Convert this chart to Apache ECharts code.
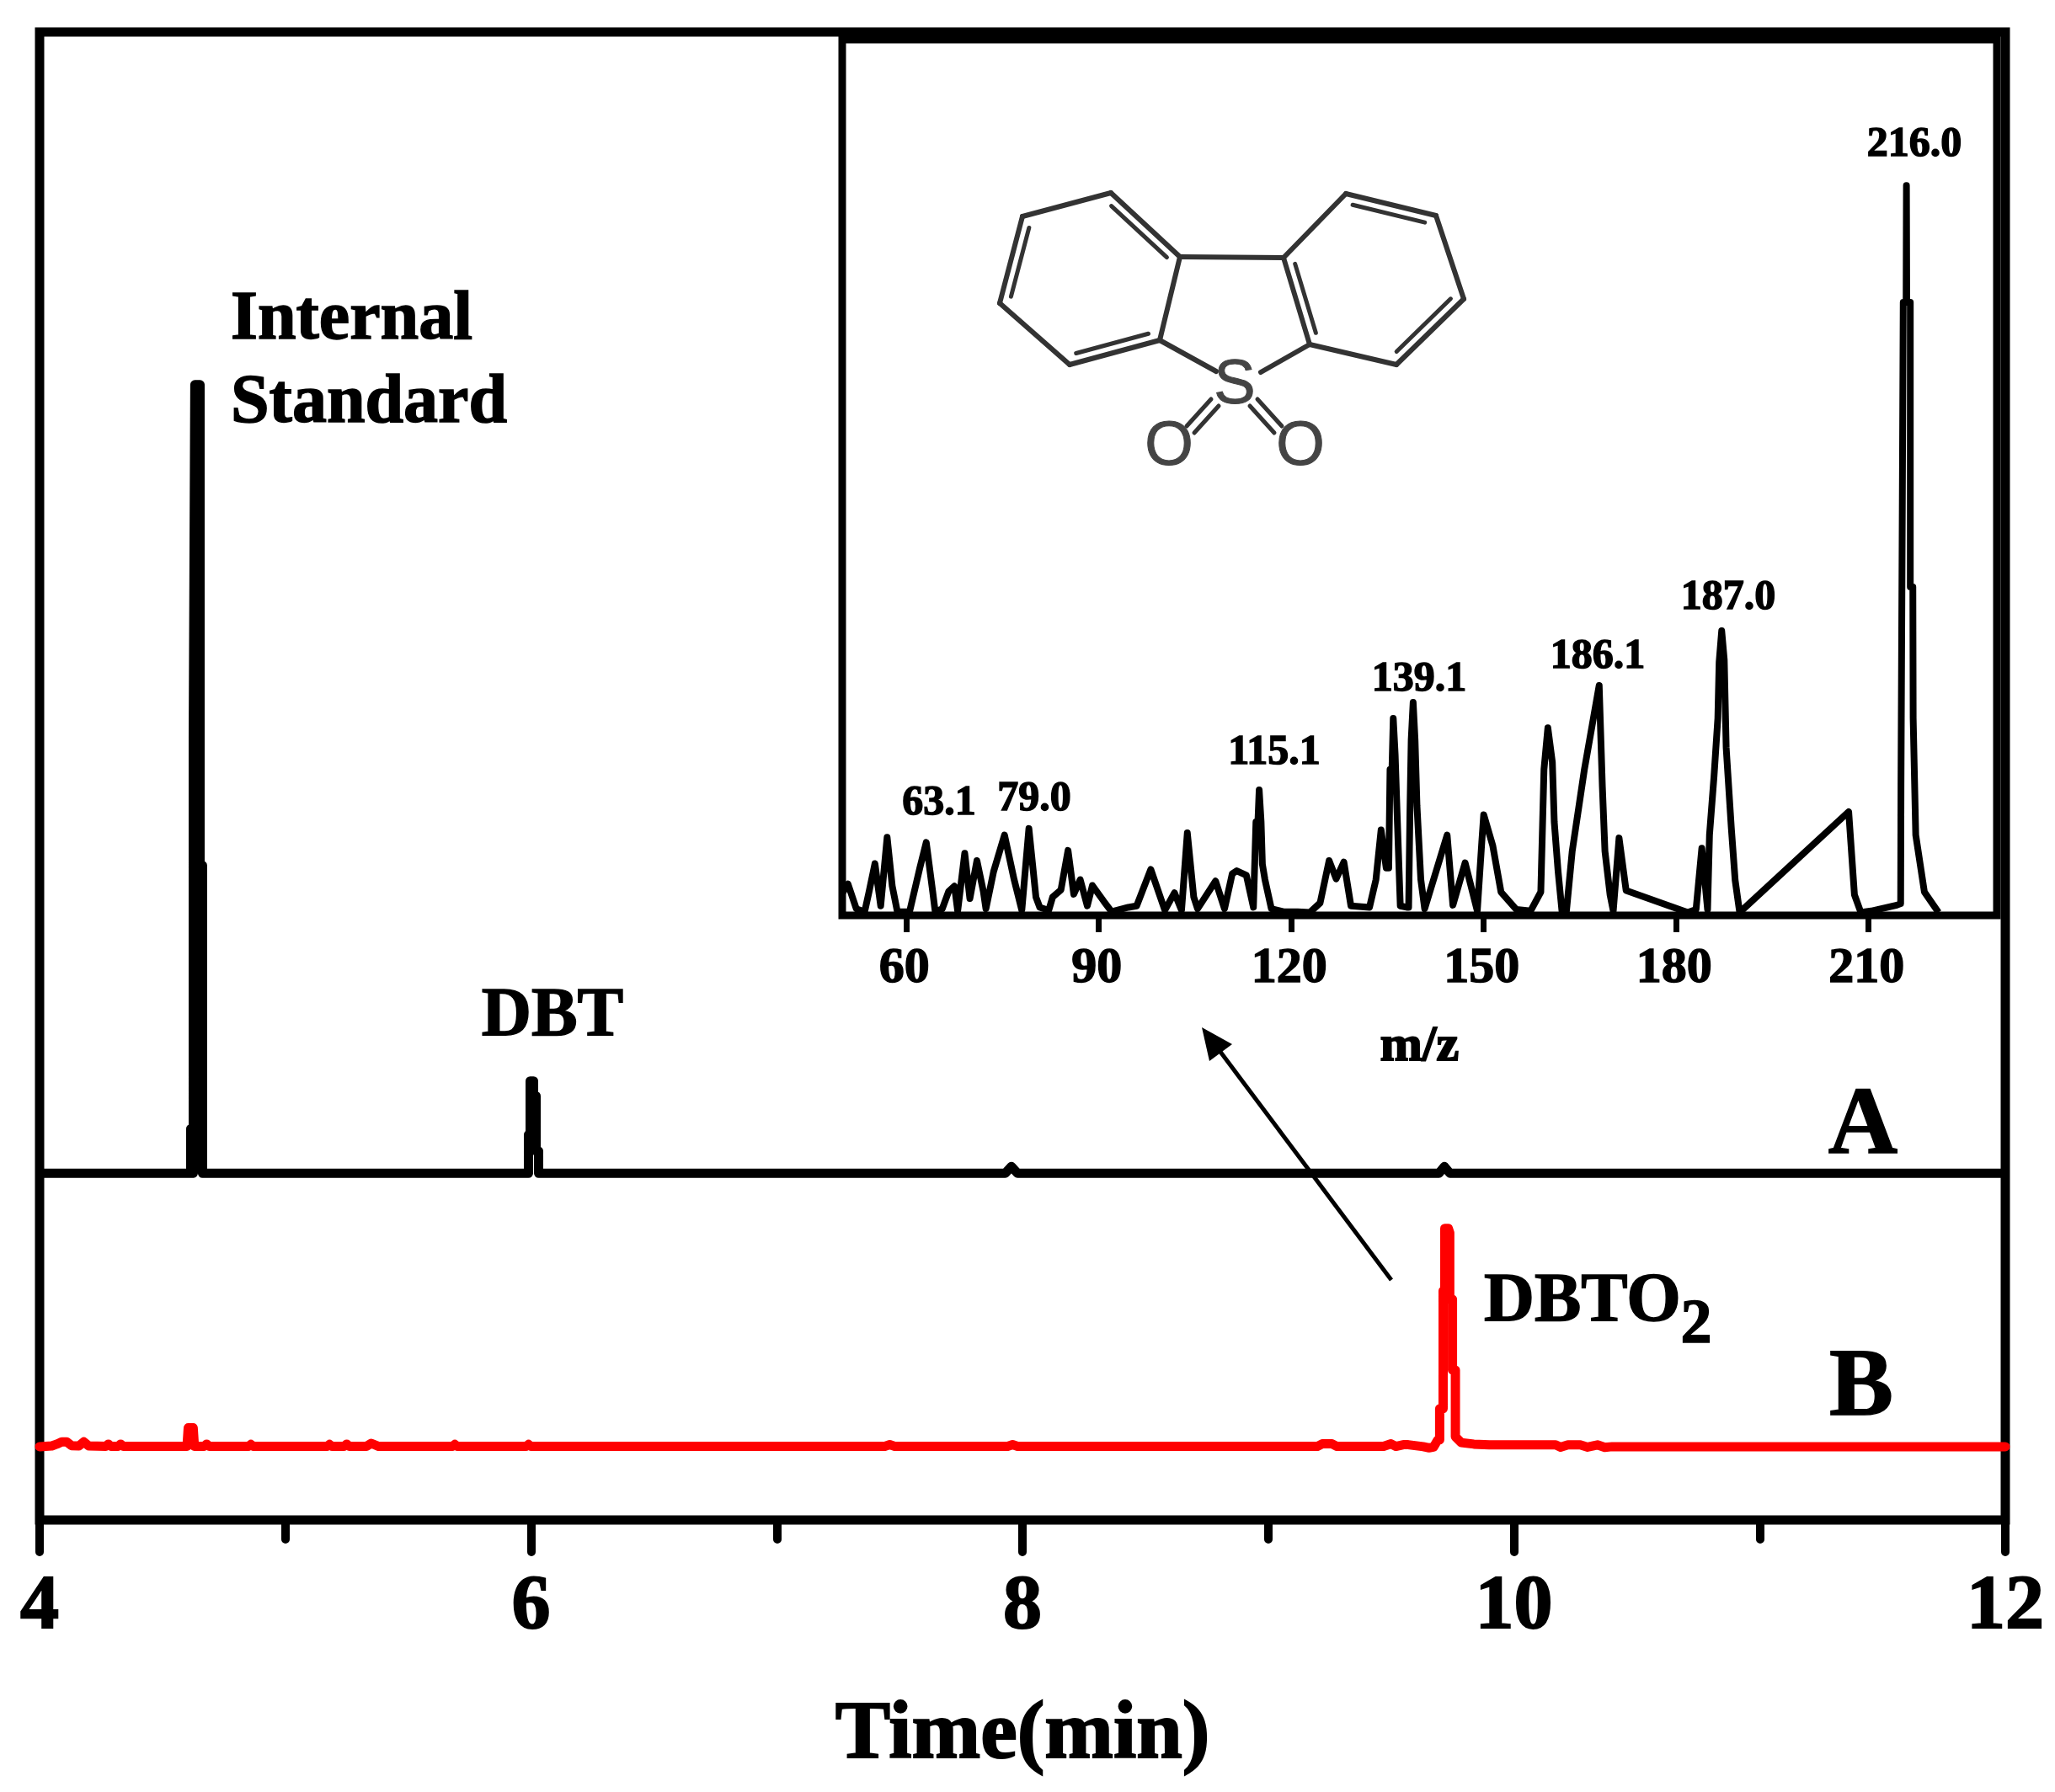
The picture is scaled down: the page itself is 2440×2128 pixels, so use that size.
<!DOCTYPE html>
<html>
  <head>
    <meta charset="utf-8" />
    <title>Chromatogram with mass spectrum inset</title>
    <script src="https://cdnjs.cloudflare.com/ajax/libs/echarts/6.0.0/echarts.min.js"></script>
    <style>
      html, body { margin: 0; padding: 0; background: #fff; }
      #main { width: 2440px; height: 2128px; }
    </style>
  </head>
  <body>
    <div id="main"></div>
    <script type="text/javascript">
      // trace A (black), time in min / stacked signal
      var timeA = [4, 4.6152, 4.6152, 4.6255, 4.6255, 4.632, 4.632, 4.653, 4.653, 4.663, 4.663,
        5.9897, 5.9897, 5.9966, 5.9966, 6.0103, 6.0103, 6.0206, 6.0206, 6.0309, 6.0309,
        7.93, 7.955, 7.98, 9.695, 9.717, 9.74, 12];
      var signalA = [23.3, 23.3, 26.3, 23.3, 52.5, 52.5, 76.3, 76.3, 44, 44, 23.3,
        23.3, 25.9, 25.9, 29.5, 29.5, 28.5, 28.5, 24.8, 24.8, 23.3,
        23.3, 23.75, 23.3, 23.3, 23.75, 23.3, 23.3];

      // trace B (red)
      var timeB = [4, 4.05, 4.07, 4.09, 4.11, 4.13, 4.16, 4.18, 4.2, 4.27, 4.28, 4.29, 4.32, 4.33, 4.34,
        4.6, 4.605, 4.625, 4.63, 4.67, 4.68, 4.69, 4.85, 4.86, 4.87, 5.17, 5.18, 5.19, 5.24, 5.25, 5.26,
        5.33, 5.35, 5.38, 5.68, 5.69, 5.7, 5.98, 5.99, 6.0, 7.44, 7.46, 7.48, 7.94, 7.96, 7.98,
        9.2, 9.22, 9.26, 9.28, 9.47, 9.5, 9.52, 9.55, 9.57, 9.631, 9.655, 9.673, 9.69, 9.698, 9.698, 9.712, 9.712,
        9.719, 9.719, 9.733, 9.739, 9.739, 9.75, 9.75, 9.762, 9.762, 9.786, 9.837, 9.9, 10.17, 10.19, 10.22, 10.27, 10.3, 10.34, 10.37, 10.4, 12];
      var signalB = [4.93, 4.98, 5.1, 5.25, 5.25, 5.0, 4.98, 5.25, 4.98, 4.95, 5.1, 4.95, 4.95, 5.1, 4.95,
        4.95, 6.2, 6.2, 4.95, 4.95, 5.1, 4.95, 4.95, 5.08, 4.95, 4.95, 5.08, 4.95, 4.95, 5.1, 4.95,
        4.95, 5.15, 4.95, 4.95, 5.08, 4.95, 4.95, 5.08, 4.95, 4.95, 5.06, 4.95, 4.95, 5.06, 4.95,
        4.95, 5.12, 5.12, 4.95, 4.95, 5.12, 4.95, 5.06, 5.06, 4.93, 4.85, 4.9, 5.38, 5.38, 7.48, 7.48, 15.4,
        15.4, 19.6, 19.6, 19.3, 14.84, 14.84, 10.08, 10.08, 5.6, 5.2, 5.1, 5.05, 5.05, 4.9, 5.05, 5.05, 4.9, 5.05, 4.88, 4.93, 4.93];

      // inset mass spectrum, m/z / relative abundance
      var mzValues = [50, 50.9, 52.2, 53.5, 54.2, 55.1, 56, 57, 57.8, 58.6, 60.5, 62.1, 63.1, 64.1, 64.5, 65.6, 66.6,
        67.5, 68, 69.1, 69.9, 71, 72, 72.4, 73.6, 75.3, 76.8, 78, 79.1, 80.2, 80.8, 82.2, 82.8, 84.1,
        85.2, 86.1, 87.1, 88.2, 89, 90.8, 92, 94.6, 95.9, 98.1, 100.3, 101.8, 102.9, 103.8, 104.8, 105.4,
        108.2, 109.6, 110.8, 111.5, 113, 114.1, 114.5, 114.8, 115, 115.3, 115.5, 115.9, 116.9, 118.8, 121, 122.9, 124.5, 125.9, 127,
        128.2, 129.3, 132.2, 133.2, 134, 134.8, 135.2, 135.4, 135.7, 135.9, 136.2, 136.5, 137, 138, 138.3, 138.5, 138.7, 139, 139.3, 139.6, 140.2, 140.8, 144.3, 145.2, 147.1,
        149, 149.7, 150, 151.4, 152.7, 155.1, 157.3, 158.9, 159.4, 160, 160.7, 161, 161.6, 162.2, 162.9, 163.8, 165.7, 166.9, 168, 168.5, 168.9, 169.7,
        170.2, 171.1, 172.2, 181.8, 183.1, 184, 184.9, 185.2, 185.9, 186.5, 186.7, 187.1, 187.5, 187.8, 188.6, 189.2, 189.9, 206.9, 207.8, 208.8,
        210.4, 214.4, 215, 215.05, 215.2, 215.25, 215.4, 215.4, 215.85, 215.9, 215.95, 216.5, 216.5, 216.9, 216.95, 217.2, 217.35, 218.7, 220.9];
      var abundance = [3, 4.3, 0.9, 0.5, 3.3, 7.1, 1.3, 10.7, 4, 0.5, 0.5, 6.5, 10, 3.3, 0.5, 0.9, 3.3,
        4, 0.6, 8.5, 2.3, 7.5, 3.3, 0.9, 6, 11, 4.9, 0.7, 11.9, 2.5, 1.1, 0.7, 2.5, 3.5,
        8.9, 2.9, 4.9, 1.3, 4.1, 1.9, 0.5, 1.1, 1.3, 6.3, 0.7, 3.1, 0.7, 11.3, 2.5, 0.9,
        4.7, 0.9, 5.7, 6.1, 5.5, 1.1, 12.8, 12.8, 17.2, 12.8, 7, 4.9, 0.9, 0.5, 0.5, 0.4, 1.7, 7.5, 5,
        7.3, 1.3, 1.1, 4.9, 11.7, 6.5, 6.5, 20, 20, 27, 22, 14, 1.3, 1.1, 1.1, 14, 24, 29.2, 24, 15, 4.9, 0.9, 11, 1.4, 7.2,
        0.6, 10, 13.8, 9.6, 3.2, 0.8, 0.6, 3.2, 20, 25.7, 21, 12.8, 6, 0.6, 0.6, 8.8, 20, 26, 31.5, 17.6, 8.8, 2.8,
        0.6, 10.6, 3.4, 0.4, 0.8, 9.2, 0.8, 11, 19, 27, 34.7, 39, 35, 23, 12, 4.8, 0.4, 14.2, 2.8, 0.4,
        0.6, 1.4, 1.6, 18, 18, 55, 55, 84, 84, 100, 84, 84, 45, 45, 27, 27, 11, 3.2, 0.4];

      var timeTicks = [4, 6, 8, 10, 12];
      var mzMajorTicks = [60, 90, 120, 150, 180, 210];
      var mzMinorTicks = [75, 105, 135, 165, 195, 225];

      var SERIF = '"Liberation Serif", "Times New Roman", serif';
      var SANS = '"Liberation Sans", Arial, sans-serif';

      function zip(xs, ys) {
        return xs.map(function (x, i) { return [x, ys[i]]; });
      }

      function label(text, x, y, size, align) {
        return {
          type: 'text', z: 50, x: x, y: y,
          style: {
            text: text, fill: '#000', align: align || 'center', verticalAlign: 'middle',
            stroke: '#000', lineWidth: 1.5,
            font: 'bold ' + size + 'px ' + SERIF
          }
        };
      }

      // structure sketch in the inset, double bonds get a second stroke on the ring side
      var atoms = {
        a: [1319, 229], b: [1214, 257], c: [1187, 360], d: [1270, 433], e: [1377, 404], f: [1401, 305],
        g: [1524, 306], h: [1598, 230], i: [1705, 256], j: [1738, 355], k: [1658, 433], l: [1555, 409]
      };
      var singleBonds = [['a', 'b'], ['c', 'd'], ['e', 'f'], ['f', 'g'], ['g', 'h'], ['i', 'j'], ['k', 'l']];
      var doubleBonds = [['a', 'f', 1294], ['b', 'c', 1294], ['d', 'e', 1294], ['g', 'l', 1631], ['h', 'i', 1631], ['j', 'k', 1631]];

      function stroke(p, q, w) {
        return {
          type: 'line', z: 40,
          shape: { x1: p[0], y1: p[1], x2: q[0], y2: q[1] },
          style: { stroke: '#333', lineWidth: w || 6, lineCap: 'round' }
        };
      }

      var molecule = [];
      singleBonds.forEach(function (b) {
        molecule.push(stroke(atoms[b[0]], atoms[b[1]]));
      });
      doubleBonds.forEach(function (b) {
        var p = atoms[b[0]], q = atoms[b[1]];
        molecule.push(stroke(p, q));
        var dx = q[0] - p[0], dy = q[1] - p[1], len = Math.sqrt(dx * dx + dy * dy);
        var nx = -dy / len * 11, ny = dx / len * 11;
        var mx = (p[0] + q[0]) / 2, my = (p[1] + q[1]) / 2, cy = 345;
        if ((b[2] - mx) * nx + (cy - my) * ny < 0) { nx = -nx; ny = -ny; }
        var sx = dx / len * 11, sy = dy / len * 11;
        molecule.push(stroke([p[0] + nx + sx, p[1] + ny + sy], [q[0] + nx - sx, q[1] + ny - sy], 5));
      });
      molecule.push(stroke(atoms.e, [1444, 441]));
      molecule.push(stroke(atoms.l, [1497, 442]));
      // S=O bonds
      molecule.push(stroke([1438, 474], [1409, 506], 5));
      molecule.push(stroke([1447, 482], [1418, 514], 5));
      molecule.push(stroke([1493, 474], [1522, 506], 5));
      molecule.push(stroke([1484, 482], [1513, 514], 5));
      ['S', 'O', 'O'].forEach(function (t, i) {
        molecule.push({
          type: 'text', z: 40, x: [1466, 1388, 1544][i], y: [459, 532, 532][i],
          style: { text: t, fill: '#444', stroke: '#444', lineWidth: 1, align: 'center', verticalAlign: 'middle', font: '74px ' + SANS }
        });
      });

      var annotations = [
        label('Internal', 274, 381, 82, 'left'),
        label('Standard', 274, 480, 82, 'left'),
        label('DBT', 656, 1208, 82),
        label('DBTO', 1762, 1547, 83, 'left'),
        label('2', 2014, 1575, 74),
        label('A', 2212, 1340, 114),
        label('B', 2210, 1651, 114),
        label('63.1', 1115, 954, 50),
        label('79.0', 1228, 949, 50),
        label('115.1', 1513, 894, 50),
        label('139.1', 1685, 807, 50),
        label('186.1', 1897, 780, 50),
        label('187.0', 2052, 710, 50),
        label('216.0', 2273, 172, 50),
        {
          type: 'line', z: 45,
          shape: { x1: 1652, y1: 1520, x2: 1443, y2: 1241 },
          style: { stroke: '#000', lineWidth: 5 }
        },
        {
          type: 'polygon', z: 45,
          shape: { points: [[1427, 1220], [1463, 1240], [1436, 1260]] },
          style: { fill: '#000' }
        }
      ];

      var myChart = echarts.init(document.getElementById('main'), null, { renderer: 'canvas' });

      var option = {
        animation: false,
        backgroundColor: '#fff',
        grid: [
          { left: 47, top: 38, width: 2334, height: 1767, show: true, borderColor: '#000', borderWidth: 11, backgroundColor: 'transparent', outerBoundsMode: 'none' },
          { left: 1000, top: 47, width: 1371, height: 1040, show: true, borderColor: '#000', borderWidth: 9, backgroundColor: '#fff', outerBoundsMode: 'none', z: 1 }
        ],
        xAxis: [
          {
            type: 'value', gridIndex: 0, min: 4, max: 12, interval: 2,
            name: 'Time(min)', nameLocation: 'middle', nameGap: 208,
            nameTextStyle: { color: '#000', fontFamily: SERIF, fontWeight: 'bold', fontSize: 98, textBorderColor: '#000', textBorderWidth: 2 },
            splitLine: { show: false },
            axisLine: { show: false },
            axisTick: { show: true, length: 38, lineStyle: { color: '#000', width: 10, cap: 'round' }, customValues: timeTicks },
            minorTick: { show: true, splitNumber: 2, length: 23, lineStyle: { color: '#000', width: 10, cap: 'round' } },
            axisLabel: { color: '#000', fontFamily: SERIF, fontWeight: 'bold', fontSize: 92, margin: 58, showMinLabel: true, showMaxLabel: true, textBorderColor: '#000', textBorderWidth: 2 }
          },
          {
            type: 'value', gridIndex: 1, min: 50, max: 230,
            name: 'm/z', nameLocation: 'middle', nameGap: 126,
            nameTextStyle: { color: '#000', fontFamily: SERIF, fontWeight: 'bold', fontSize: 60, textBorderColor: '#000', textBorderWidth: 2 },
            splitLine: { show: false },
            axisLine: { show: false },
            axisTick: { show: true, length: 20, lineStyle: { color: '#000', width: 7 }, customValues: mzMajorTicks },
            axisLabel: { color: '#000', fontFamily: SERIF, fontWeight: 'bold', fontSize: 60, margin: 33, padding: [0, 5, 0, 0], customValues: mzMajorTicks, textBorderColor: '#000', textBorderWidth: 1.5 }
          },
          {
            type: 'value', gridIndex: 1, min: 50, max: 230,
            splitLine: { show: false },
            axisLine: { show: false },
            axisTick: { show: true, length: 12, lineStyle: { color: '#000', width: 6 }, customValues: mzMinorTicks },
            axisLabel: { show: false }
          }
        ],
        yAxis: [
          { type: 'value', gridIndex: 0, min: 0, max: 100, show: false },
          { type: 'value', gridIndex: 1, min: 0, max: 120, show: false }
        ],
        series: [
          {
            name: 'A', type: 'line', xAxisIndex: 0, yAxisIndex: 0, z: 5,
            data: zip(timeA, signalA), showSymbol: false, clip: false,
            lineStyle: { color: '#000', width: 11, join: 'round' }
          },
          {
            name: 'B', type: 'line', xAxisIndex: 0, yAxisIndex: 0, z: 6,
            data: zip(timeB, signalB), showSymbol: false, clip: false,
            lineStyle: { color: '#ff0000', width: 11, cap: 'round', join: 'round' }
          },
          {
            name: 'MS', type: 'line', xAxisIndex: 1, yAxisIndex: 1, z: 7,
            data: zip(mzValues, abundance), showSymbol: false, clip: false,
            lineStyle: { color: '#000', width: 8, join: 'round' }
          }
        ],
        graphic: annotations.concat(molecule)
      };

      myChart.setOption(option);
    </script>
  </body>
</html>
